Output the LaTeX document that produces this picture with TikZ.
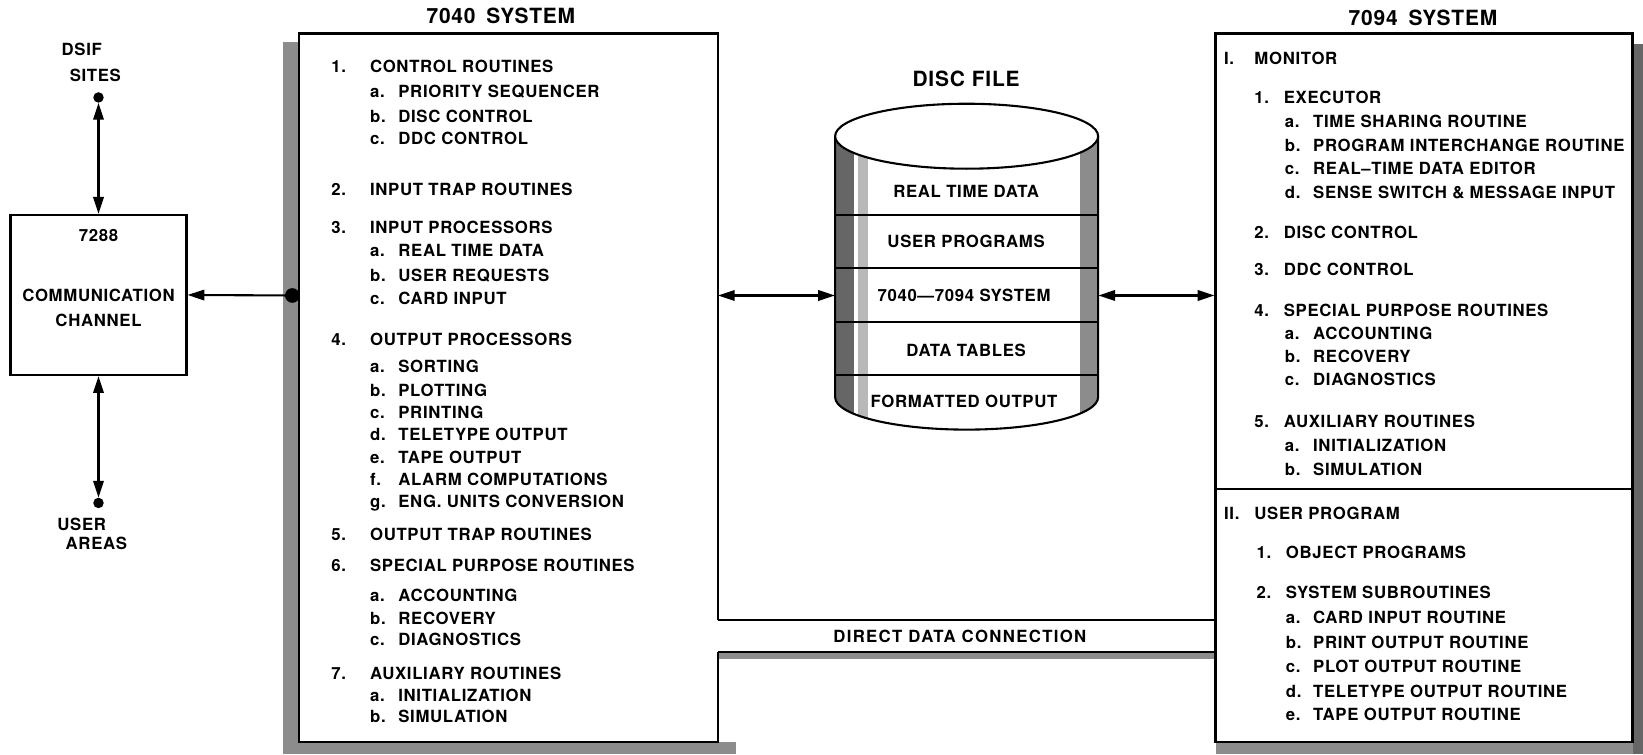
\documentclass[tikz,border=0pt]{standalone}
\usepackage{fontspec}
\setmainfont{TeX Gyre Heros}[LetterSpace=4]
\usetikzlibrary{arrows.meta}
\definecolor{stip}{gray}{0.55}
\definecolor{stipdk}{gray}{0.4}
\definecolor{stiplt}{gray}{0.72}
\begin{document}
\begin{tikzpicture}[x=1pt,y=-1pt,
  ol/.style={line width=2pt},
  txt/.style={anchor=base west, inner sep=0pt, font=\bfseries\fontsize{16}{19}\selectfont, yshift=-5.8pt},
  ctxt/.style={anchor=base, inner sep=0pt, font=\bfseries\fontsize{16}{19}\selectfont, yshift=-5.8pt},
  ttl/.style={anchor=base, inner sep=0pt, font=\bfseries\fontsize{20}{24}\selectfont, yshift=-7.2pt},
  dbl/.style={line width=2pt, {Triangle[length=16pt,width=10pt]}-{Triangle[length=16pt,width=10pt]}},
  lft/.style={line width=2pt, -{Triangle[length=16pt,width=10pt]}},
  blackdot/.style={circle, fill=black, inner sep=0pt, minimum size=#1},
]
\useasboundingbox (0,0) rectangle (1568,720);
% shadows
\fill[stip] (270,40) rectangle (285,720);
\fill[stip] (270,708) rectangle (702,720);
\fill[stip] (1160,708) rectangle (1568,720);
\fill[stipdk] (1558,42) rectangle (1568,720);
\fill[stip] (685,622) rectangle (1160,629);

% titles
\node[ttl] (t40) at (478,15) {7040\hspace{4pt} SYSTEM};
\node[ttl] (t94) at (1358,17) {7094\hspace{4pt} SYSTEM};
\node[ttl] (tdf) at (922,75) {DISC FILE};

% 7040 system outline
\node[inner sep=0pt, minimum width=400pt, minimum height=676pt] (s40) at (485,370) {};
\draw[ol] (685,592) -- (685,32) -- (285,32) -- (285,708) -- (685,708) -- (685,622);

% direct data connection
\draw[ol] (685,592) -- (1160,592);
\draw[ol] (685,622) -- (1160,622);
\node[ctxt] (ddc) at (916,607) {\addfontfeature{LetterSpace=8}DIRECT DATA CONNECTION};

% 7094 system
\node[draw, ol, inner sep=0pt, minimum width=398pt, minimum height=676pt] (s94) at (1359,370) {};
\draw[ol] (1160,467) -- (1558,467);

% 7288 channel
\node[draw, ol, inner sep=0pt, minimum width=168pt, minimum height=153pt] (cc) at (94,281.5) {};
\node[ctxt] (c1) at (94,225) {7288};
\node[ctxt] (c2) at (94,282) {COMMUNICATION};
\node[ctxt] (c3) at (94,306) {CHANNEL};

% DSIF sites and user areas
\node[blackdot=10pt] (dsif) at (94,93) {};
\node[ctxt] (dl1) at (78,47) {DSIF};
\node[ctxt] (dl2) at (91,72) {SITES};
\node[blackdot=10pt] (usr) at (94,480) {};
\node[ctxt] (ul1) at (78,500) {USER};
\node[ctxt] (ul2) at (92,519) {AREAS};
\draw[dbl] (dsif) -- (cc.north);
\draw[dbl] (cc.south) -- (usr);

% junction to 7040
\node[blackdot=14pt] (jn) at (279,282) {};
\draw[lft] (jn.center) -- (cc.east);

% disc file
\node[inner sep=0pt, minimum width=251pt, minimum height=10pt] (disc) at (922.5,282) {};
\begin{scope}
\clip (797,130) arc[start angle=180,end angle=360,x radius=125.5pt,y radius=31pt] -- (1048,379) arc[start angle=0,end angle=-180,x radius=125.5pt,y radius=31pt] -- cycle;
\fill[stipdk] (797,95) rectangle (815,415);
\fill[stiplt] (819,95) rectangle (828,415);
\fill[stip] (1031,95) rectangle (1048,415);
\end{scope}
\draw[ol] (797,130) -- (797,379) arc[start angle=180,end angle=360,x radius=125.5pt,y radius=31pt] -- (1048,130);
\draw[ol, fill=white] (922.5,130) ellipse [x radius=125.5pt, y radius=31pt];
\foreach \yy in {205,256,307,358} \draw[ol] (797,\yy) -- (1048,\yy);
\node[ctxt] (d1) at (922,183) {REAL TIME DATA};
\node[ctxt] (d2) at (922,230) {USER PROGRAMS};
\node[ctxt] (d3) at (920,282) {7040—7094 SYSTEM};
\node[ctxt] (d4) at (922,334) {DATA TABLES};
\node[ctxt] (d5) at (920,383) {FORMATTED OUTPUT};

% connectors to disc
\draw[dbl] (s40.east |- disc.west) -- (disc.west);
\draw[dbl] (disc.east) -- (disc.east -| s94.west);

% 7040 contents
\foreach \ia/\ib/\ic [count=\k] in {63/1./CONTROL ROUTINES,%
  181/2./INPUT TRAP ROUTINES,%
  217/3./INPUT PROCESSORS,%
  324/4./OUTPUT PROCESSORS,%
  510/5./OUTPUT TRAP ROUTINES,%
  540/6./SPECIAL PURPOSE ROUTINES,%
  643/7./AUXILIARY ROUTINES}
  \node[txt] (pa\k) at (316,\ia) {\makebox[37pt][l]{\ib}\ic};
\foreach \ia/\ib/\ic [count=\k] in {87/a./PRIORITY SEQUENCER,%
  111/b./DISC CONTROL,%
  132/c./DDC CONTROL,%
  239/a./REAL TIME DATA,%
  263/b./USER REQUESTS,%
  285/c./CARD INPUT,%
  350/a./SORTING,%
  373/b./PLOTTING,%
  394/c./PRINTING,%
  415/d./TELETYPE OUTPUT,%
  437/e./TAPE OUTPUT,%
  458/f./ALARM COMPUTATIONS,%
  479/g./ENG. UNITS CONVERSION,%
  568/a./ACCOUNTING,%
  590/b./RECOVERY,%
  610/c./DIAGNOSTICS,%
  664/a./INITIALIZATION,%
  684/b./SIMULATION}
  \node[txt] (pb\k) at (353,\ia) {\makebox[27pt][l]{\ib}\ic};

% 7094 contents
\node[txt] (qa1) at (1168,56) {\makebox[29pt][l]{I.}MONITOR};
\node[txt] (qa2) at (1168,490) {\makebox[29pt][l]{II.}USER PROGRAM};
\foreach \ia/\ib/\ic [count=\k] in {93/1./EXECUTOR,%
  222/2./DISC CONTROL,%
  257/3./DDC CONTROL,%
  296/4./SPECIAL PURPOSE ROUTINES,%
  402/5./AUXILIARY ROUTINES}
  \node[txt] (qb\k) at (1197,\ia) {\makebox[28pt][l]{\ib}\ic};
\foreach \ia/\ib/\ic [count=\k] in {116/a./TIME SHARING ROUTINE,%
  139/b./PROGRAM INTERCHANGE ROUTINE,%
  161/c./REAL–TIME DATA EDITOR,%
  184/d./SENSE SWITCH \& MESSAGE INPUT,%
  318/a./ACCOUNTING,%
  340/b./RECOVERY,%
  362/c./DIAGNOSTICS,%
  425/a./INITIALIZATION,%
  448/b./SIMULATION}
  \node[txt] (qc\k) at (1226,\ia) {\makebox[27pt][l]{\ib}\ic};
\foreach \ia/\ib/\ic [count=\k] in {527/1./OBJECT PROGRAMS,%
  565/2./SYSTEM SUBROUTINES}
  \node[txt] (qd\k) at (1199,\ia) {\makebox[28pt][l]{\ib}\ic};
\foreach \ia/\ib/\ic [count=\k] in {589/a./CARD INPUT ROUTINE,%
  613/b./PRINT OUTPUT ROUTINE,%
  636/c./PLOT OUTPUT ROUTINE,%
  660/d./TELETYPE OUTPUT ROUTINE,%
  682/e./TAPE OUTPUT ROUTINE}
  \node[txt] (qe\k) at (1227,\ia) {\makebox[26pt][l]{\ib}\ic};
\end{tikzpicture}
\end{document}
